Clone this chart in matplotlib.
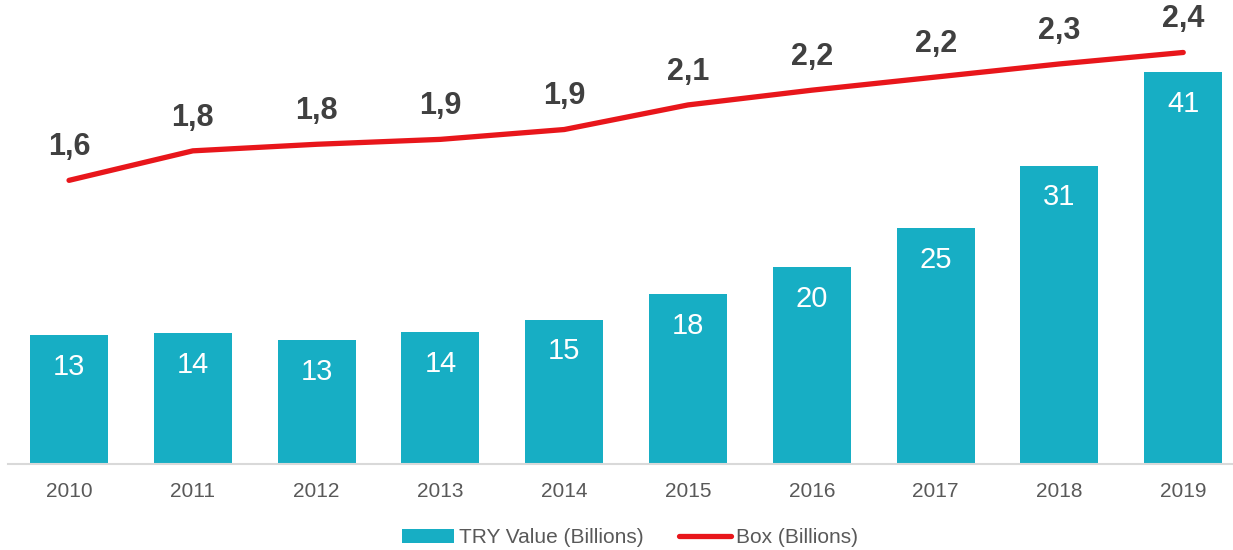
import matplotlib.pyplot as plt
import numpy as np

# values
years = ['2010', '2011', '2012', '2013', '2014', '2015', '2016', '2017', '2018', '2019']
try_value = [13.5, 13.7, 13.0, 13.8, 15.1, 17.8, 20.6, 24.7, 31.2, 41.0]
try_labels = ['13', '14', '13', '14', '15', '18', '20', '25', '31', '41']
box = [1.62, 1.80, 1.84, 1.87, 1.93, 2.08, 2.17, 2.25, 2.33, 2.40]
box_labels = ['1,6', '1,8', '1,8', '1,9', '1,9', '2,1', '2,2', '2,2', '2,3', '2,4']

bar_color = '#17aec4'
line_color = '#e8161b'

plt.rcParams['font.family'] = ['Liberation Sans', 'DejaVu Sans']

fig = plt.figure(figsize=(12.33, 5.5), dpi=100)
ax = fig.add_axes([8 / 1233, 86 / 550, 1225 / 1233, 464 / 550])
ax2 = ax.twinx()

x = np.arange(len(years))
bars = ax.bar(x, try_value, width=0.63, color=bar_color, label='TRY Value (Billions)', zorder=2)
for xi, v, lab in zip(x, try_value, try_labels):
    ax.annotate(lab, (xi, v), xytext=(0, -23), textcoords='offset points',
                ha='center', va='center', color='white', fontsize=21)

line, = ax2.plot(x, box, color=line_color, lw=3.8, solid_capstyle='round',
                 label='Box (Billions)', zorder=3)
for xi, v, lab in zip(x, box, box_labels):
    ax2.annotate(lab, (xi, v), xytext=(0, 24), textcoords='offset points',
                 ha='center', va='center', color='#404040', fontsize=22, fontweight='bold')

ax.set_xlim(-0.493, 9.402)
ax.set_ylim(0, 48.5)
ax2.set_ylim(-0.11, 2.72)

ax.set_xticks(x)
ax.set_xticklabels(years, fontsize=15, color='#595959')
ax.tick_params(axis='x', length=0, pad=13)
ax.set_yticks([])
ax2.set_yticks([])
for a in (ax, ax2):
    for s in ['top', 'right', 'left', 'bottom']:
        a.spines[s].set_visible(False)
ax.spines['bottom'].set_visible(True)
ax.spines['bottom'].set_color('#d9d9d9')
ax.spines['bottom'].set_linewidth(1.5)

fig.legend([bars, line], ['TRY Value (Billions)', 'Box (Billions)'], loc='center',
           bbox_to_anchor=(0.511, 0.022), ncol=2, frameon=False, fontsize=15,
           handlelength=2.5, handletextpad=0.25, columnspacing=1.7,
           labelcolor='#595959')

fig.savefig('out.png', dpi=100)
